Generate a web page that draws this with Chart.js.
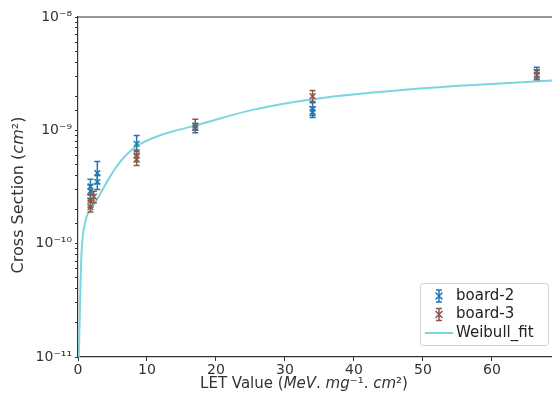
<!DOCTYPE html>
<html>
<head>
<meta charset="utf-8">
<script src="https://cdn.jsdelivr.net/npm/chart.js@4.4.0/dist/chart.umd.min.js"></script>
<style>
  html, body { margin: 0; padding: 0; background: #fff; }
  #wrap { width: 552px; height: 405px; }
</style>
</head>
<body>
<div id="wrap"><canvas id="crossChart"></canvas></div>
<script>
// values
const board2X = [1.8, 1.8, 2.8, 2.8, 8.5, 17, 34, 34, 66.5];
const board2Y = [3.2e-10, 2.9e-10, 4.2e-10, 3.5e-10, 7.6e-10, 1.05e-9, 1.55e-9, 1.45e-9, 3.3e-9];
const board2Lo = [2.7e-10, 2.5e-10, 3.4e-10, 3.0e-10, 6.5e-10, 0.95e-9, 1.35e-9, 1.3e-9, 2.9e-9];
const board2Hi = [3.7e-10, 3.3e-10, 5.3e-10, 4.0e-10, 9.0e-10, 1.15e-9, 1.75e-9, 1.6e-9, 3.6e-9];

const board3X = [1.8, 1.8, 2.3, 8.5, 8.5, 17, 34, 66.5];
const board3Y = [2.4e-10, 2.1e-10, 2.6e-10, 6.0e-10, 5.5e-10, 1.1e-9, 2.0e-9, 3.1e-9];
const board3Lo = [2.1e-10, 1.9e-10, 2.3e-10, 5.3e-10, 4.9e-10, 1.0e-9, 1.8e-9, 2.8e-9];
const board3Hi = [2.7e-10, 2.4e-10, 2.9e-10, 6.7e-10, 6.1e-10, 1.25e-9, 2.25e-9, 3.4e-9];

const fitX = [0.12, 0.3, 0.5, 1.1, 1.9, 3.3, 4.3, 5.5, 6.8, 8.4, 12, 17, 25, 34, 50, 68.7];
const fitY = [1.0e-11, 3.1e-11, 8.0e-11, 1.6e-10, 2.0e-10, 2.8e-10, 3.6e-10, 4.7e-10, 5.9e-10, 7.2e-10, 9.1e-10, 1.1e-9, 1.5e-9, 1.88e-9, 2.35e-9, 2.75e-9];

const xTicks = [0, 10, 20, 30, 40, 50, 60];
const yTickLabels = { '-8': '10⁻⁸', '-9': '10⁻⁹', '-10': '10⁻¹⁰', '-11': '10⁻¹¹' };

// axis titles, split into plain / italic pieces
const xTitle = [['LET Value (', false], ['MeV', true], ['. ', false], ['mg', true], ['⁻¹', false], ['. ', false], ['cm', true], ['²', false], [')', false]];
const yTitle = [['Cross Section (', false], ['cm', true], ['²', false], [')', false]];

const blue = '#1f77b4';
const brown = '#8c564b';
const cyan = '#7ad6df';

function toPoints(xs, ys) {
  return xs.map((x, i) => ({ x: x, y: ys[i] }));
}

function drawPieces(ctx, pieces, cx, cy, size) {
  const fontOf = it => (it ? 'italic ' : '') + size + 'px "DejaVu Sans"';
  let total = 0;
  pieces.forEach(p => { ctx.font = fontOf(p[1]); total += ctx.measureText(p[0]).width; });
  let x = cx - total / 2;
  ctx.textBaseline = 'middle';
  ctx.textAlign = 'left';
  pieces.forEach(p => {
    ctx.font = fontOf(p[1]);
    ctx.fillText(p[0], x, cy);
    x += ctx.measureText(p[0]).width;
  });
}

// vertical error bars with caps, drawn through the chart scales
const errorBars = {
  id: 'errorBars',
  afterDatasetsDraw(chart) {
    const ctx = chart.ctx;
    const xs = chart.scales.x, ys = chart.scales.y;
    chart.data.datasets.forEach(ds => {
      if (!ds.errLo) return;
      ctx.save();
      ctx.strokeStyle = ds.borderColor;
      ctx.lineWidth = 1.5;
      ds.data.forEach((p, i) => {
        const px = xs.getPixelForValue(p.x);
        const top = ys.getPixelForValue(ds.errHi[i]);
        const bot = ys.getPixelForValue(ds.errLo[i]);
        ctx.beginPath();
        ctx.moveTo(px, top); ctx.lineTo(px, bot);
        ctx.moveTo(px - 3, top); ctx.lineTo(px + 3, top);
        ctx.moveTo(px - 3, bot); ctx.lineTo(px + 3, bot);
        ctx.stroke();
      });
      ctx.restore();
    });
  }
};

// top spine, axis titles and legend box in the lower right
const frameAndLegend = {
  id: 'frameAndLegend',
  afterDraw(chart) {
    const ctx = chart.ctx;
    const a = chart.chartArea;
    ctx.save();
    ctx.strokeStyle = '#333';
    ctx.lineWidth = 1.2;
    ctx.beginPath();
    ctx.moveTo(a.left, a.top); ctx.lineTo(a.right, a.top);
    ctx.stroke();

    ctx.fillStyle = '#333';
    drawPieces(ctx, xTitle, 304, 384, 15);
    ctx.save();
    ctx.translate(19, 195);
    ctx.rotate(-Math.PI / 2);
    drawPieces(ctx, yTitle, 0, 0, 16);
    ctx.restore();

    const w = 128, h = 62;
    const bx = chart.width - w - 4, by = a.bottom - h - 12;
    ctx.fillStyle = 'rgba(255,255,255,0.85)';
    ctx.strokeStyle = '#d0d0d0';
    ctx.lineWidth = 1;
    ctx.beginPath();
    ctx.roundRect(bx + 0.5, by + 0.5, w, h, 3);
    ctx.fill(); ctx.stroke();

    const entries = [
      { label: 'board-2', color: blue, kind: 'err' },
      { label: 'board-3', color: brown, kind: 'err' },
      { label: 'Weibull_fit', color: cyan, kind: 'line' }
    ];
    ctx.font = '15px "DejaVu Sans"';
    ctx.textBaseline = 'middle';
    ctx.textAlign = 'left';
    entries.forEach((e, i) => {
      const cy = by + 13 + i * 18.5;
      const cx = bx + 19;
      ctx.strokeStyle = e.color;
      if (e.kind === 'err') {
        ctx.lineWidth = 1.5;
        ctx.beginPath();
        ctx.moveTo(cx, cy - 6); ctx.lineTo(cx, cy + 6);
        ctx.moveTo(cx - 3, cy - 6); ctx.lineTo(cx + 3, cy - 6);
        ctx.moveTo(cx - 3, cy + 6); ctx.lineTo(cx + 3, cy + 6);
        ctx.moveTo(cx - 3.5, cy - 3.5); ctx.lineTo(cx + 3.5, cy + 3.5);
        ctx.moveTo(cx + 3.5, cy - 3.5); ctx.lineTo(cx - 3.5, cy + 3.5);
        ctx.stroke();
      } else {
        ctx.lineWidth = 2;
        ctx.beginPath();
        ctx.moveTo(cx - 14, cy); ctx.lineTo(cx + 14, cy);
        ctx.stroke();
      }
      ctx.fillStyle = '#222';
      ctx.fillText(e.label, bx + 36, cy);
    });
    ctx.restore();
  }
};

new Chart(document.querySelector('#crossChart'), {
  type: 'scatter',
  data: {
    datasets: [
      {
        label: 'Weibull_fit',
        data: toPoints(fitX, fitY),
        showLine: true,
        borderColor: cyan,
        borderWidth: 2,
        pointRadius: 0,
        cubicInterpolationMode: 'monotone',
        order: 3
      },
      {
        label: 'board-2',
        data: toPoints(board2X, board2Y),
        errLo: board2Lo, errHi: board2Hi,
        borderColor: blue,
        backgroundColor: blue,
        pointStyle: 'crossRot',
        pointRadius: 4,
        borderWidth: 1.5,
        order: 2
      },
      {
        label: 'board-3',
        data: toPoints(board3X, board3Y),
        errLo: board3Lo, errHi: board3Hi,
        borderColor: brown,
        backgroundColor: brown,
        pointStyle: 'crossRot',
        pointRadius: 4,
        borderWidth: 1.5,
        order: 1
      }
    ]
  },
  options: {
    responsive: true,
    maintainAspectRatio: false,
    animation: false,
    layout: { autoPadding: false, padding: { top: 17, right: 0, left: 10, bottom: 11 } },
    scales: {
      x: {
        type: 'linear',
        min: 0,
        max: 68.7,
        afterFit(scale) {
          scale.height = 37;
          scale.paddingRight = 0;
          scale.paddingLeft = 0;
        },
        afterBuildTicks(scale) { scale.ticks = xTicks.map(v => ({ value: v })); },
        ticks: { color: '#333', font: { family: 'DejaVu Sans', size: 14 }, padding: 1, includeBounds: false },
        grid: { drawOnChartArea: false, tickLength: 4, color: '#333' },
        border: { color: '#333', width: 1.2 },
        title: { display: false }
      },
      y: {
        type: 'logarithmic',
        min: 1e-11,
        max: 1e-8,
        afterFit(scale) {
          scale.width = 68;
          scale.paddingTop = 0;
          scale.paddingBottom = 0;
        },
        ticks: {
          autoSkip: false,
          color: '#333',
          font: { family: 'DejaVu Sans', size: 14 },
          padding: 3,
          callback(value) {
            const e = Math.round(Math.log10(value));
            if (Math.abs(Math.log10(value) - e) < 1e-6) return yTickLabels[String(e)] || '';
            return '';
          }
        },
        grid: { drawOnChartArea: false, tickLength: 3, color: '#333' },
        border: { color: '#333', width: 1.2 },
        title: { display: false }
      }
    },
    plugins: {
      legend: { display: false },
      tooltip: { enabled: false }
    }
  },
  plugins: [errorBars, frameAndLegend]
});
</script>
</body>
</html>
